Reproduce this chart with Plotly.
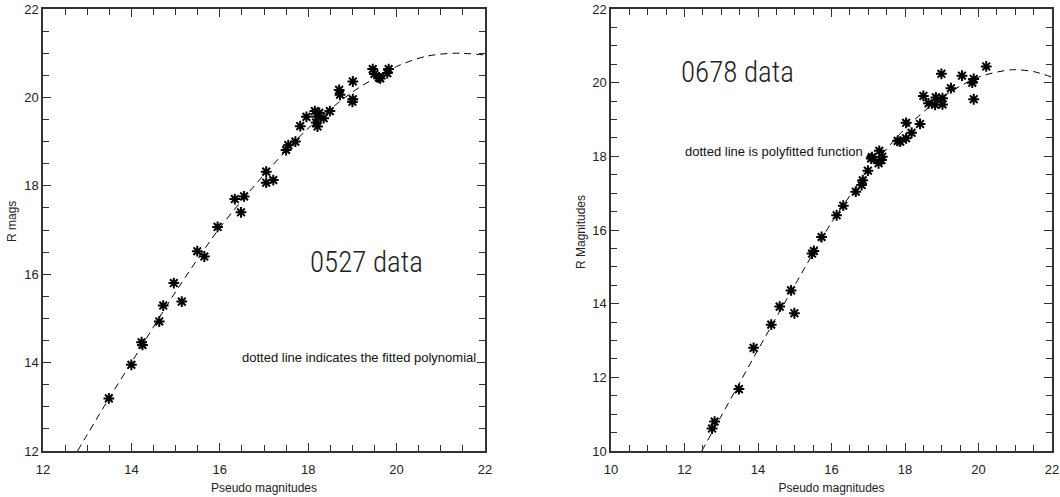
import plotly.graph_objects as go

# ---------------- data: panel 1 (0527) ----------------
x0527 = [13.49, 14.00, 14.23, 14.25, 14.63, 14.72, 14.96, 15.14, 15.49, 15.65,
         15.95, 16.34, 16.55, 16.48, 17.05, 17.05, 17.21, 17.50, 17.55, 17.71,
         17.82, 17.96, 18.15, 18.21, 18.18, 18.21, 18.35, 18.49, 18.25, 18.70,
         18.72, 19.01, 19.01, 19.00, 19.46, 19.50, 19.63, 19.60, 19.82, 19.79]
y0527 = [13.19, 13.95, 14.46, 14.40, 14.93, 15.29, 15.80, 15.38, 16.52, 16.40,
         17.07, 17.70, 17.76, 17.40, 18.32, 18.07, 18.13, 18.81, 18.92, 19.00,
         19.35, 19.56, 19.69, 19.56, 19.43, 19.34, 19.53, 19.69, 19.65, 20.17,
         20.06, 20.36, 19.96, 19.90, 20.64, 20.53, 20.43, 20.45, 20.64, 20.55]
fit0527_x = [12.78, 13.5, 14.0, 15.0, 16.0, 17.0, 18.0, 19.0, 20.0, 20.67, 21.3, 22.0]
fit0527_y = [12.0, 13.2, 14.0, 15.6, 17.05, 18.25, 19.3, 20.12, 20.7, 20.93, 21.0, 20.96]

# ---------------- data: panel 2 (0678) ----------------
x0678 = [12.75, 12.82, 13.48, 13.88, 14.36, 14.59, 14.90, 14.99, 15.47, 15.52,
         15.73, 16.14, 16.32, 16.66, 16.82, 16.85, 16.99, 17.08, 17.10, 17.30,
         17.28, 17.38, 17.36, 17.80, 17.87, 18.03, 18.03, 18.18, 18.41, 18.50,
         18.64, 18.82, 18.84, 19.02, 19.02, 18.99, 19.25, 19.55, 19.83, 19.87,
         19.87, 20.21]
y0678 = [10.61, 10.80, 11.68, 12.80, 13.43, 13.92, 14.36, 13.74, 15.36, 15.43,
         15.81, 16.40, 16.66, 17.04, 17.22, 17.35, 17.61, 17.94, 17.98, 18.15,
         17.81, 17.99, 17.90, 18.42, 18.40, 18.49, 18.91, 18.64, 18.88, 19.64,
         19.44, 19.40, 19.60, 19.58, 19.41, 20.24, 19.85, 20.19, 20.00, 20.10,
         19.55, 20.44]
fit0678_x = [12.47, 13.0, 13.5, 14.0, 15.0, 16.0, 17.0, 18.0, 19.0, 20.0, 20.9, 21.5, 22.0]
fit0678_y = [10.0, 10.95, 11.85, 12.75, 14.5, 16.2, 17.6, 18.75, 19.6, 20.15, 20.35, 20.3, 20.15]

# ---------------- labels ----------------
xtitle = "Pseudo magnitudes"
ytitle1 = "R mags"
ytitle2 = "R Magnitudes"
label1 = "0527 data"
note1 = "dotted line indicates the fitted polynomial"
label2 = "0678 data"
note2 = "dotted line is polyfitted function"

TICKFONT = dict(family="Liberation Sans, Arial, sans-serif", size=13, color="#222")
BIGFONT = dict(family="Roboto Condensed, Liberation Sans Narrow, DejaVu Sans Condensed, sans-serif",
               size=29, color="#222", weight=300)
SMALLFONT = dict(family="Liberation Sans, Arial, sans-serif", size=13, color="#111")
TITLEFONT = dict(family="Liberation Sans, Arial, sans-serif", size=12, color="#222")

W, H = 1060, 497
def px_x(p):
    return p / W
def px_y(p):
    return 1 - p / H

fig = go.Figure()

marker = dict(symbol="asterisk-open", size=9, color="black", line=dict(color="black", width=2))
line = dict(color="black", width=1, dash="7px,5px", shape="spline", smoothing=0.8)

fig.add_trace(go.Scatter(x=fit0527_x, y=fit0527_y, mode="lines", line=line,
                         xaxis="x", yaxis="y", showlegend=False, hoverinfo="skip"))
fig.add_trace(go.Scatter(x=x0527, y=y0527, mode="markers", marker=marker,
                         xaxis="x", yaxis="y", showlegend=False))
fig.add_trace(go.Scatter(x=fit0678_x, y=fit0678_y, mode="lines", line=line,
                         xaxis="x2", yaxis="y2", showlegend=False, hoverinfo="skip"))
fig.add_trace(go.Scatter(x=x0678, y=y0678, mode="markers", marker=marker,
                         xaxis="x2", yaxis="y2", showlegend=False))

def axis(rng, domain, anchor, title, standoff, lblstand):
    d = dict(
        range=rng, domain=domain, anchor=anchor, automargin=False,
        showline=True, linecolor="#333", linewidth=1.5, mirror="ticks",
        ticks="inside", ticklen=8, tickwidth=1.2, tickcolor="#333",
        dtick=2, tick0=0, showgrid=False, zeroline=False,
        minor=dict(dtick=0.5, ticks="inside", ticklen=6, tickwidth=1.2, tickcolor="#333", showgrid=False),
        tickfont=TICKFONT, ticklabelstandoff=lblstand,
        fixedrange=True,
    )
    if title:
        d["title"] = dict(text=title, font=TITLEFONT, standoff=standoff)
    return d

ydom = [px_y(451), px_y(9)]
fig.update_layout(
    width=W, height=H,
    margin=dict(l=0, r=0, t=0, b=0, autoexpand=False),
    paper_bgcolor="white", plot_bgcolor="white",
    xaxis=axis([12, 22], [px_x(43), px_x(485)], "y", xtitle, 7, 6),
    yaxis=axis([12, 22], ydom, "x", None, 0, 0),
    xaxis2=axis([10, 22], [px_x(611), px_x(1052)], "y2", xtitle, 7, 6),
    yaxis2=axis([10, 22], ydom, "x2", None, 0, 0),
    annotations=[
        dict(x=px_x(12), y=px_y(222), xref="paper", yref="paper", text=ytitle1, showarrow=False,
             textangle=-90, xanchor="center", yanchor="middle", font=TITLEFONT),
        dict(x=px_x(581), y=px_y(232), xref="paper", yref="paper", text=ytitle2, showarrow=False,
             textangle=-90, xanchor="center", yanchor="middle", font=TITLEFONT),
        dict(x=18.0, y=16.27, xref="x", yref="y", text=label1, showarrow=False,
             xanchor="left", yanchor="middle", font=BIGFONT),
        dict(x=16.45, y=14.12, xref="x", yref="y", text=note1, showarrow=False,
             xanchor="left", yanchor="middle", font=SMALLFONT),
        dict(x=11.85, y=20.3, xref="x2", yref="y2", text=label2, showarrow=False,
             xanchor="left", yanchor="middle", font=BIGFONT),
        dict(x=11.95, y=18.14, xref="x2", yref="y2", text=note2, showarrow=False,
             xanchor="left", yanchor="middle", font=SMALLFONT),
    ],
)

# remove the default 8px page margin so the figure sits at the window's corner
fig.write_html("out.html", config={"displayModeBar": False},
               post_script="document.body.style.margin='0px';")
